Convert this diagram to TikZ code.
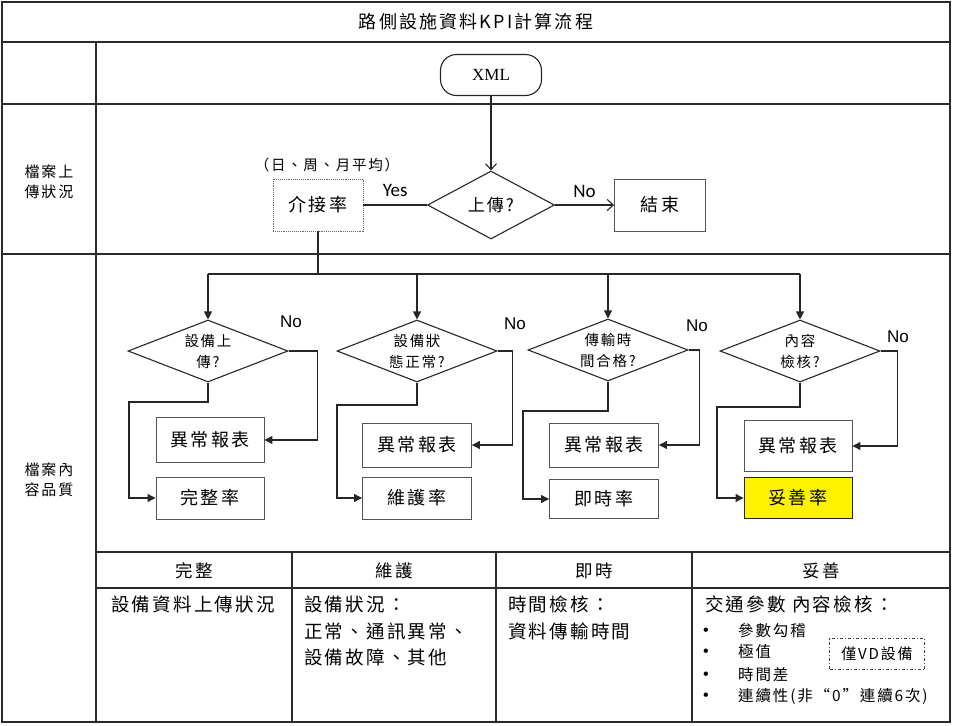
\documentclass[tikz,border=0pt]{standalone}
\usepackage{fontspec}
\setmainfont{Noto Sans CJK TC}
\newfontfamily\cjksp[LetterSpace=12]{Noto Sans CJK TC}
\newfontfamily\latser{Liberation Serif}
\newfontfamily\latsans{Liberation Sans}
\newfontfamily\carl{Carlito}
\usetikzlibrary{arrows.meta,shapes.geometric,calc}
\definecolor{frm}{HTML}{2B2B2B}
\definecolor{bxl}{HTML}{555555}
\tikzset{
  frame/.style={draw=frm, line width=1.6pt},
  flow/.style={draw=black!85, line width=1.1pt},
  openarr/.style={flow, -{Straight Barb[length=6pt,width=11pt]}},
  solidarr/.style={flow, -{Triangle[length=8pt,width=8pt]}},
  stepbox/.style={draw=bxl, line width=0.9pt, minimum width=108pt, minimum height=44pt, inner sep=0pt,
    font=\cjksp\fontsize{18}{20}\selectfont},
  decide/.style={diamond, draw=black!85, line width=1.1pt, minimum width=160pt, minimum height=62pt,
    inner sep=0pt, aspect=2.6, align=center, font=\cjksp\fontsize{14.5}{21}\selectfont},
  lbl/.style={inner sep=0pt, font=\latsans\fontsize{17}{20}\selectfont},
  toplbl/.style={inner sep=0pt, font=\carl\fontsize{19}{22}\selectfont},
  side/.style={inner sep=0pt, align=center, font=\cjksp\fontsize{15}{20}\selectfont},
  hdr/.style={inner sep=0pt, font=\cjksp\fontsize{17.5}{20}\selectfont},
  body/.style={inner sep=0pt, align=left, anchor=north west, font=\cjksp\fontsize{18.5}{26.5}\selectfont},
  item/.style={inner sep=0pt, anchor=west, font=\cjksp\fontsize{15.5}{20}\selectfont},
  dot/.style={inner sep=0pt, anchor=west, font=\latsans\fontsize{16}{20}\selectfont},
}
\begin{document}
\begin{tikzpicture}[x=1pt,y=-1pt]
\useasboundingbox (0,0) rectangle (954,726);
% frame
\draw[frame] (2,2) rectangle (950,722);
\draw[frame] (2,42) -- (950,42);
\draw[frame] (2,104) -- (950,104);
\draw[frame] (2,254) -- (950,254);
\draw[frame] (96,42) -- (96,722);
\draw[frame] (96,552) -- (950,552);
\draw[frame] (96,588) -- (950,588);
\draw[frame] (292,552) -- (292,722);
\draw[frame] (496,552) -- (496,722);
\draw[frame] (692,552) -- (692,722);
% title and side labels
\node[inner sep=0pt, font=\cjksp\fontsize{18}{20}\selectfont] (title) at (476,22) {路側設施資料KPI計算流程};
\node[side] (side1) at (49,182) {檔案上\\傳狀況};
\node[side] (side2) at (49,480) {檔案內\\容品質};
% top flow
\node[draw=black!85, line width=1.1pt, rounded corners=16pt, minimum width=101pt, minimum height=41pt,
  font=\latser\fontsize{17}{20}\selectfont] (xml) at (491,75) {XML};
\node[decide, minimum width=127pt, minimum height=68pt, font=\cjksp\fontsize{17}{20}\selectfont] (q0) at (491,205) {上傳?};
\node[stepbox, minimum width=91pt, minimum height=52pt] (end) at (660,205) {結束};
\node[stepbox, draw=black!60, densely dotted, minimum width=90pt, minimum height=52pt] (jie) at (318,205) {介接率};
\node[inner sep=0pt, font=\cjksp\fontsize{14.5}{18}\selectfont] (avg) at (327,165) {（日、周、月平均）};
\draw[openarr] (xml) -- (q0);
\draw[openarr] (q0.east) -- node[toplbl, above=7pt] (no0) {No} (end.west);
\draw[flow] (q0.west) -- node[toplbl, above=8pt] (yes0) {Yes} (jie.east);
\coordinate (busL) at (208,274);
\coordinate (busR) at (800,274);
\draw[flow] (jie.south) -- (jie.south |- busL);
\draw[flow] (busL) -- (busR);
% lower flow: decisions
\node[decide] (d1) at (208,351) {設備上\\傳?};
\node[decide] (d2) at (417,351) {設備狀\\態正常?};
\node[decide] (d3) at (608,350) {傳輸時\\間合格?};
\node[decide] (d4) at (800,351) {內容\\檢核?};
% boxes
\node[stepbox, minimum height=45pt] (r1) at (210,440) {異常報表};
\node[stepbox, minimum height=42pt] (k1) at (210,498) {完整率};
\node[stepbox, minimum width=109pt] (r2) at (417,445) {異常報表};
\node[stepbox, minimum width=109pt, minimum height=42pt] (k2) at (417,498) {維護率};
\node[stepbox, minimum width=109pt] (r3) at (604,445) {異常報表};
\node[stepbox, minimum width=109pt, minimum height=39pt] (k3) at (604,499) {即時率};
\node[stepbox, minimum height=51pt] (r4) at (798,446) {異常報表};
\node[stepbox, fill=yellow, draw=black!85, minimum height=41pt] (k4) at (798,498) {妥善率};
% bus to decisions
\draw[solidarr] (d1.north |- busL) -- (d1.north);
\draw[solidarr] (d2.north |- busL) -- (d2.north);
\draw[solidarr] (d3.north |- busL) -- (d3.north);
\draw[solidarr] (d4.north |- busL) -- (d4.north);
% No branches
\draw[solidarr] (d1.east) -- ++(29,0) |- (r1.east);
\draw[solidarr] (d2.east) -- ++(15,0) |- (r2.east);
\draw[solidarr] (d3.east) -- ++(11,0) |- (r3.east);
\draw[solidarr] (d4.east) -- ++(17,0) |- (r4.east);
\node[lbl] (no1) at (291,322) {No};
\node[lbl] (no2) at (515,324) {No};
\node[lbl] (no3) at (697,326) {No};
\node[lbl] (no4) at (898,337) {No};
% Yes branches
\coordinate (y1) at (129,402);
\coordinate (y2) at (337,405);
\coordinate (y3) at (523,411);
\coordinate (y4) at (717,407);
\draw[solidarr] (d1.south) |- (y1) |- (k1.west);
\draw[solidarr] (d2.south) |- (y2) |- (k2.west);
\draw[solidarr] (d3.south) |- (y3) |- (k3.west);
\draw[solidarr] (d4.south) |- (y4) |- (k4.west);
% table
\node[hdr] (h1) at (194,571) {完整};
\node[hdr] (h2) at (394,571) {維護};
\node[hdr] (h3) at (594,571) {即時};
\node[hdr] (h4) at (821,571) {妥善};
\node[body] (t1) at (111,596) {設備資料上傳狀況};
\node[body] (t2) at (304,596) {設備狀況：\\正常、通訊異常、\\設備故障、其他};
\node[body] (t3) at (508,596) {時間檢核：\\資料傳輸時間};
\node[body] (t4) at (705,596) {交通參數 內容檢核：};
\node[dot] (b1) at (703,632) {•};
\node[dot] (b2) at (703,653) {•};
\node[dot] (b3) at (703,676) {•};
\node[dot] (b4) at (703,697) {•};
\node[item] (i1) at (738,631) {參數勾稽};
\node[item] (i2) at (738,652) {極值};
\node[item] (i3) at (738,675) {時間差};
\node[item] (i4) at (738,696) {連續性(非“0”連續6次)};
\node[draw=black!75, line width=0.9pt, dash pattern=on 3pt off 2pt on 1pt off 2pt, minimum width=95pt,
  minimum height=31pt, inner sep=0pt, font=\cjksp\fontsize{15}{18}\selectfont] (vd) at (877,654) {僅VD設備};
\end{tikzpicture}
\end{document}
